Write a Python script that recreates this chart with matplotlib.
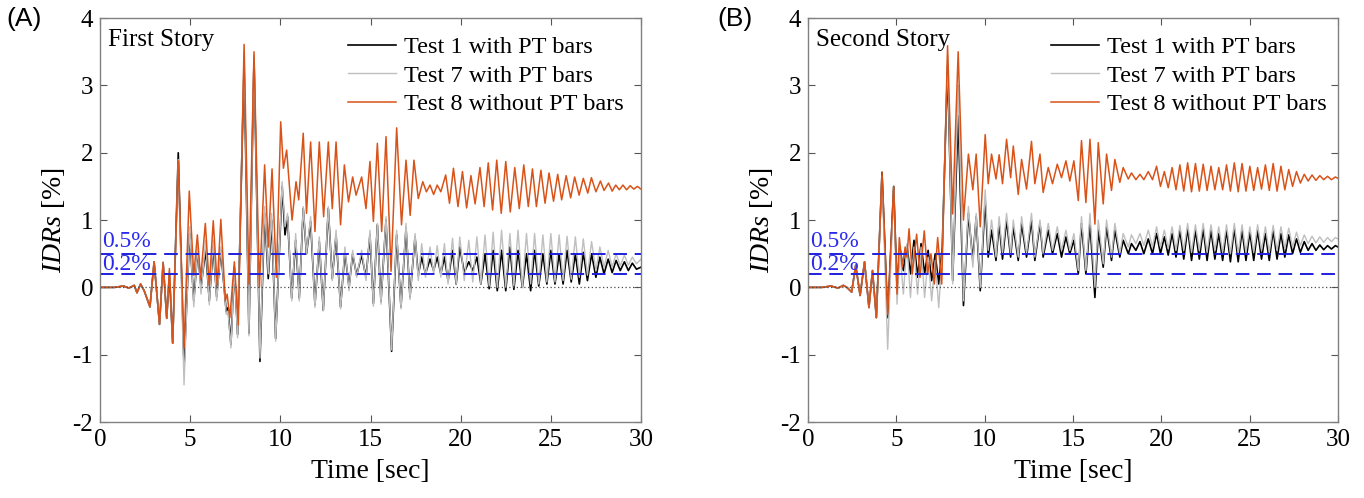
import matplotlib
matplotlib.use("Agg")
import matplotlib.pyplot as plt

plt.rcParams['font.family'] = ['Liberation Serif', 'DejaVu Serif']
plt.rcParams['mathtext.fontset'] = 'custom'
plt.rcParams['mathtext.it'] = 'Liberation Serif:italic'
plt.rcParams['mathtext.rm'] = 'Liberation Serif'
plt.rcParams['axes.unicode_minus'] = False

# ---------------- panel A : first story ----------------
# Test 1 / Test 7 share the same sample times
t17_a = [0, 0.8, 1.3, 1.6, 1.9, 2.05, 2.25, 2.45, 2.77, 3.0,
         3.3, 3.5, 3.7, 3.85, 4.03, 4.34, 4.66, 4.97, 5.2, 5.42,
         5.6, 5.86, 6.06, 6.28, 6.47, 6.7, 7.0, 7.1, 7.26, 7.45,
         7.63, 7.99, 8.26, 8.54, 8.87, 9.13, 9.33, 9.52, 9.74, 10.1,
         10.26, 10.4, 10.63, 10.85, 11.05, 11.27, 11.45, 11.68, 11.92, 12.16,
         12.38, 12.66, 12.88, 13.09, 13.34, 13.58, 13.81, 14.01, 14.23, 14.51,
         14.75, 14.97, 15.16, 15.38, 15.58, 15.86, 16.17, 16.45, 16.69, 16.97,
         17.19, 17.47, 17.65, 17.84, 18.05, 18.3, 18.5, 18.7, 18.9, 19.1,
         19.3, 19.55, 19.75, 19.95, 20.2, 20.45, 20.67, 20.9, 21.12, 21.35,
         21.58, 21.8, 22.03, 22.27, 22.5, 22.73, 22.95, 23.18, 23.42, 23.65,
         23.88, 24.1, 24.33, 24.56, 24.78, 25.0, 25.23, 25.46, 25.68, 25.9,
         26.13, 26.36, 26.58, 26.8, 27.03, 27.26, 27.5, 27.72, 27.95, 28.18,
         28.4, 28.62, 28.85, 29.08, 29.3, 29.52, 29.75, 30.0]
test1_a = [0, 0, 0.02, -0.01, 0.03, -0.08, 0.05, -0.05, -0.29, 0.38,
           -0.55, 0.37, -0.46, 0.2, -0.83, 2.0, -1.2, 0.8, -0.2, 0.55,
           0.0, 0.56, -0.2, 0.6, -0.14, 0.55, -0.36, -0.3, -0.85, 0.3,
           -0.7, 3.3, -0.68, 3.4, -1.1, 1.1, 0.13, 1.0, -0.76, 1.5,
           0.78, 1.05, -0.16, 0.7, -0.16, 1.17, 0.5, 0.98, -0.26, 0.68,
           -0.34, 1.17, 0.13, 0.78, -0.29, 0.53, 0.0, 0.5, 0.18, 0.48,
           0.15, 0.78, -0.24, 0.93, -0.21, 1.0, -0.95, 0.78, -0.29, 0.88,
           -0.14, 0.75, 0.18, 0.45, 0.2, 0.42, 0.25, 0.45, 0.2, 0.45,
           0.1, 0.55, 0.05, 0.6, 0.22, 0.38, 0.25, 0.45, 0.05, 0.5,
           -0.02, 0.55, -0.05, 0.55, -0.05, 0.6, -0.03, 0.55, 0.0, 0.5,
           -0.05, 0.55, 0.02, 0.5, 0.05, 0.55, 0.05, 0.5, 0.05, 0.55,
           0.08, 0.5, 0.05, 0.52, 0.1, 0.5, 0.15, 0.45, 0.2, 0.42,
           0.22, 0.4, 0.25, 0.38, 0.25, 0.36, 0.27, 0.3]
test7_a = [0, 0, 0.02, -0.01, 0.03, -0.08, 0.05, -0.05, -0.29, 0.38,
           -0.55, 0.37, -0.46, 0.25, -0.83, 1.9, -1.45, 0.9, -0.29, 0.6,
           -0.1, 0.7, -0.26, 0.7, -0.2, 0.6, -0.4, -0.35, -0.9, 0.3,
           -0.75, 3.5, -0.72, 3.45, -1.05, 1.2, 0.2, 1.1, -0.8, 1.57,
           0.9, 1.1, -0.2, 0.8, -0.2, 1.2, 0.5, 1.05, -0.3, 0.75,
           -0.35, 1.2, 0.1, 0.85, -0.32, 0.6, -0.05, 0.55, 0.15, 0.55,
           0.1, 0.85, -0.28, 0.95, -0.25, 1.05, -0.93, 0.85, -0.32, 0.95,
           -0.18, 0.8, 0.1, 0.65, 0.15, 0.6, 0.2, 0.62, 0.15, 0.65,
           0.05, 0.73, 0.05, 0.75, 0.1, 0.7, 0.08, 0.75, 0.05, 0.78,
           0.02, 0.82, 0.0, 0.85, 0.0, 0.8, 0.02, 0.85, 0.0, 0.8,
           0.05, 0.8, 0.05, 0.78, 0.08, 0.8, 0.08, 0.78, 0.1, 0.76,
           0.12, 0.75, 0.15, 0.72, 0.18, 0.68, 0.25, 0.6, 0.3, 0.55,
           0.3, 0.5, 0.32, 0.48, 0.33, 0.45, 0.35, 0.42]
t8_a = [0, 0.8, 1.3, 1.6, 1.9, 2.05, 2.25, 2.45, 2.77, 3.0,
        3.3, 3.5, 3.7, 3.85, 4.03, 4.34, 4.66, 4.95, 5.2, 5.4,
        5.58, 5.84, 6.06, 6.28, 6.5, 6.7, 6.95, 7.05, 7.2, 7.45,
        7.67, 7.99, 8.26, 8.54, 8.84, 9.13, 9.33, 9.54, 9.78, 10.02,
        10.17, 10.35, 10.65, 10.87, 11.02, 11.27, 11.45, 11.68, 11.92, 12.16,
        12.4, 12.66, 12.88, 13.09, 13.34, 13.55, 13.78, 14.01, 14.2, 14.51,
        14.75, 14.97, 15.16, 15.38, 15.62, 15.86, 16.14, 16.45, 16.72, 16.97,
        17.2, 17.41, 17.65, 17.9, 18.1, 18.3, 18.5, 18.7, 18.9, 19.17,
        19.38, 19.6, 19.85, 20.1, 20.33, 20.57, 20.8, 21.07, 21.3, 21.53,
        21.77, 22.0, 22.25, 22.5, 22.75, 23.0, 23.25, 23.5, 23.75, 23.98,
        24.2, 24.45, 24.68, 24.9, 25.15, 25.38, 25.6, 25.85, 26.1, 26.32,
        26.57, 26.8, 27.05, 27.25, 27.5, 27.75, 27.95, 28.2, 28.4, 28.6,
        28.8, 29.0, 29.2, 29.4, 29.6, 29.8, 30.0]
test8_a = [0, 0, 0.02, -0.01, 0.03, -0.08, 0.05, -0.05, -0.29, 0.38,
           -0.55, 0.37, -0.46, 0.28, -0.83, 1.88, -0.9, 1.43, 0.18, 0.78,
           0.13, 0.95, 0.03, 0.99, 0.03, 1.01, -0.2, -0.1, -0.45, 0.38,
           -0.56, 3.61, 0.05, 3.5, 0.0, 1.82, 0.6, 1.76, 0.15, 2.46,
           1.77, 2.04, 1.0, 1.57, 1.3, 2.29, 1.1, 2.16, 0.83, 2.16,
           1.05, 2.16, 1.17, 2.16, 0.93, 1.82, 1.27, 1.64, 1.37, 1.64,
           1.17, 1.87, 0.98, 2.14, 0.83, 2.24, 0.24, 2.37, 0.93, 1.89,
           1.07, 1.89, 1.32, 1.57, 1.42, 1.52, 1.38, 1.52, 1.42, 1.67,
           1.25, 1.77, 1.2, 1.72, 1.18, 1.66, 1.24, 1.78, 1.2, 1.85,
           1.15, 1.89, 1.1, 1.87, 1.12, 1.78, 1.17, 1.82, 1.2, 1.76,
           1.2, 1.74, 1.25, 1.7, 1.28, 1.68, 1.3, 1.66, 1.33, 1.64,
           1.37, 1.62, 1.4, 1.63, 1.42, 1.58, 1.44, 1.55, 1.43, 1.52,
           1.45, 1.52, 1.45, 1.51, 1.46, 1.5, 1.46]

# ---------------- panel B : second story ----------------
t17_b = [0, 0.8, 1.3, 1.7, 2.0, 2.2, 2.47, 2.7, 2.95, 3.2,
         3.45, 3.65, 3.87, 4.19, 4.51, 4.85,
         5.04, 5.2, 5.4, 5.6, 5.8, 6.0, 6.2, 6.4, 6.6, 6.8,
         7.0, 7.2, 7.4, 7.6, 7.9, 8.19, 8.5, 8.8, 9.08, 9.33,
         9.52, 9.75, 10.03,
         10.2, 10.39, 10.64, 10.82, 11.01, 11.24, 11.47, 11.62, 11.9, 12.09,
         12.37, 12.65, 12.84, 13.13, 13.31, 13.6, 13.84, 14.11, 14.35, 14.6,
         14.82, 15.05, 15.3, 15.48, 15.73, 15.96, 16.24, 16.43, 16.71, 16.9,
         17.18, 17.37, 17.65, 17.84, 18.13, 18.31, 18.56, 18.79, 19.01, 19.26,
         19.5, 19.73,
         19.95, 20.17, 20.39, 20.61, 20.83, 21.05, 21.27, 21.49, 21.71, 21.93,
         22.15, 22.37, 22.59, 22.81, 23.03, 23.25, 23.47, 23.69, 23.91, 24.13,
         24.35, 24.57, 24.79, 25.01, 25.23, 25.45, 25.67, 25.89, 26.11, 26.33,
         26.55, 26.77, 26.99, 27.21, 27.43, 27.65, 27.87, 28.09, 28.31, 28.53,
         28.75, 28.97, 29.19, 29.41, 29.63, 29.85, 30.0]
test1_b = [0, 0.0, 0.02, -0.01, 0.03, 0.0, -0.07, 0.33, -0.12, 0.38,
           -0.3, 0.25, -0.45, 1.71, -0.45, 1.5,
           0.0, 0.6, 0.25, 0.62, 0.2, 0.7, 0.15, 0.65, 0.2, 0.55,
           0.1, 0.5, 0.05, 0.6, 3.3, 0.1, 2.55, -0.27, 1.1, 0.4,
           1.05, -0.05, 1.3,
           0.45, 0.85, 0.4, 0.95, 0.42, 1.0, 0.45, 0.9, 0.4, 0.95,
           0.45, 1.0, 0.4, 0.95, 0.45, 0.85, 0.5, 0.8, 0.45, 0.75,
           0.5, 0.7, 0.2, 0.95, 0.2, 0.95, -0.15, 0.85, 0.3, 0.9,
           0.4, 0.85, 0.45, 0.7, 0.5, 0.65, 0.55, 0.68, 0.5, 0.72,
           0.5, 0.8,
           0.5, 0.75, 0.48, 0.8, 0.45, 0.85, 0.42, 0.88, 0.4, 0.85,
           0.42, 0.87, 0.4, 0.85, 0.42, 0.8, 0.4, 0.85, 0.38, 0.88,
           0.38, 0.85, 0.4, 0.82, 0.4, 0.85, 0.42, 0.8, 0.4, 0.85,
           0.42, 0.8, 0.45, 0.78, 0.5, 0.72, 0.52, 0.68, 0.55, 0.65,
           0.55, 0.63, 0.56, 0.62, 0.57, 0.62, 0.6]
test7_b = [0, 0.0, 0.02, -0.01, 0.03, 0.0, -0.07, 0.33, -0.12, 0.38,
           -0.3, 0.25, -0.45, 1.65, -0.92, 1.45,
           -0.25, 0.55, -0.1, 0.65, -0.15, 0.6, -0.1, 0.6, -0.15, 0.45,
           -0.2, 0.4, -0.3, 0.5, 3.45, 0.05, 3.0, -0.2, 1.2, 0.3,
           1.1, 0.0, 1.45,
           0.55, 1.0, 0.45, 1.05, 0.5, 1.1, 0.5, 1.0, 0.45, 1.05,
           0.5, 1.1, 0.45, 1.0, 0.5, 0.95, 0.55, 0.9, 0.55, 0.85,
           0.55, 0.8, 0.25, 1.05, 0.25, 1.1, 0.0, 1.0, 0.35, 1.0,
           0.45, 0.95, 0.5, 0.8, 0.6, 0.78, 0.65, 0.8, 0.62, 0.85,
           0.6, 0.9,
           0.6, 0.85, 0.58, 0.9, 0.55, 0.92, 0.55, 0.95, 0.52, 0.93,
           0.55, 0.95, 0.52, 0.93, 0.55, 0.9, 0.52, 0.93, 0.5, 0.95,
           0.5, 0.93, 0.52, 0.9, 0.52, 0.93, 0.55, 0.9, 0.52, 0.92,
           0.55, 0.9, 0.58, 0.88, 0.6, 0.82, 0.62, 0.78, 0.65, 0.76,
           0.66, 0.75, 0.67, 0.74, 0.68, 0.74, 0.72]
t8_b = [0, 0.8, 1.3, 1.7, 2.0, 2.2, 2.47, 2.7, 2.95, 3.2,
        3.45, 3.65, 3.87, 4.19, 4.51, 4.85, 5.04, 5.17, 5.34, 5.5,
        5.6, 5.72, 5.9, 6.15, 6.34, 6.58, 6.77, 6.96, 7.15, 7.34,
        7.57, 7.9, 8.19, 8.5, 8.8, 9.08, 9.33, 9.52, 9.75, 10.03,
        10.2, 10.39, 10.64, 10.82, 11.01, 11.24, 11.47, 11.62, 11.9, 12.09,
        12.37, 12.65, 12.84, 13.13, 13.31, 13.6, 13.84, 14.11, 14.35, 14.6,
        14.82, 15.05, 15.3, 15.48, 15.73, 15.96, 16.24, 16.43, 16.71, 16.9,
        17.18, 17.37, 17.65, 17.84, 18.13, 18.31, 18.56, 18.79, 19.01, 19.26,
        19.5, 19.73,
        19.95, 20.17, 20.39, 20.61, 20.83, 21.05, 21.27, 21.49, 21.71, 21.93,
        22.15, 22.37, 22.59, 22.81, 23.03, 23.25, 23.47, 23.69, 23.91, 24.13,
        24.35, 24.57, 24.79, 25.01, 25.23, 25.45, 25.67, 25.89, 26.11, 26.33,
        26.55, 26.77, 26.99, 27.21, 27.43, 27.65, 27.87, 28.09, 28.31, 28.53,
        28.75, 28.97, 29.19, 29.41, 29.63, 29.85, 30.0]
test8_b = [0, 0.0, 0.02, -0.01, 0.03, 0.0, -0.07, 0.33, -0.12, 0.38,
           -0.3, 0.25, -0.45, 1.71, -0.4, 1.5, -0.1, 0.74, 0.3, 0.6,
           0.45, 0.87, 0.2, 0.79, 0.15, 0.84, 0.2, 0.5, 0.05, 0.74,
           0.05, 3.59, 1.09, 3.5, 1.0, 1.98, 1.45, 1.98, 0.9, 2.27,
           1.54, 1.98, 1.61, 1.97, 1.54, 2.2, 1.63, 2.1, 1.38, 1.9,
           1.46, 2.17, 1.54, 1.98, 1.41, 1.78, 1.54, 1.83, 1.63, 1.88,
           1.58, 1.88, 1.29, 2.18, 1.26, 2.2, 0.94, 2.15, 1.24, 1.98,
           1.44, 1.9, 1.56, 1.78, 1.61, 1.7, 1.6, 1.68, 1.6, 1.72,
           1.6, 1.8,
           1.5, 1.72, 1.48, 1.78, 1.45, 1.82, 1.43, 1.85, 1.42, 1.84,
           1.43, 1.83, 1.44, 1.8, 1.45, 1.78, 1.45, 1.82, 1.43, 1.85,
           1.42, 1.84, 1.43, 1.8, 1.44, 1.78, 1.46, 1.82, 1.44, 1.84,
           1.43, 1.8, 1.45, 1.75, 1.5, 1.72, 1.55, 1.68, 1.58, 1.67,
           1.59, 1.66, 1.6, 1.65, 1.6, 1.64, 1.62]

panels = [
    ('(A)', 'First Story', t17_a, test1_a, test7_a, t8_a, test8_a),
    ('(B)', 'Second Story', t17_b, test1_b, test7_b, t8_b, test8_b),
]
ax_lefts = [100 / 1364, 808 / 1364]
ax_widths = [541 / 1364, 530 / 1364]
tag_x = [0.005, 0.526]

fig = plt.figure(figsize=(13.64, 4.98), dpi=100)

for i, (tag, story, t17, y1, y7, t8, y8) in enumerate(panels):
    ax = fig.add_axes([ax_lefts[i], 0.1526, ax_widths[i], 0.811])
    ax.plot(t17, y1, color='black', lw=1.2, label='Test 1 with PT bars')
    ax.plot(t17, y7, color='#bfbfbf', lw=1.0, label='Test 7 with PT bars')
    ax.plot(t8, y8, color='#d95319', lw=1.1, label='Test 8 without PT bars')
    ax.axhline(0.5, color='#1f1fdd', lw=1.4, ls=(0, (7, 4)))
    ax.axhline(0.2, color='#1f1fdd', lw=1.4, ls=(0, (7, 4)))
    ax.axhline(0, color='#4a4a4a', lw=0.9, ls=(0, (1, 2)))
    ax.text(0.1, 0.53, '0.5%', color='#2a2aee', fontsize=17, va='bottom')
    ax.text(0.1, 0.19, '0.2%', color='#2a2aee', fontsize=17, va='bottom')
    ax.text(0.015, 0.972, story, transform=ax.transAxes, fontsize=18,
            va='top', ha='left')
    ax.set_xlim(0, 30)
    ax.set_ylim(-2, 4)
    ax.set_xticks([0, 5, 10, 15, 20, 25, 30])
    ax.set_yticks([-2, -1, 0, 1, 2, 3, 4])
    ax.tick_params(direction='in', top=True, right=True, labelsize=18,
                   length=5, color='#555555', pad=5)
    for s in ax.spines.values():
        s.set_color('#808080')
        s.set_linewidth(1.0)
    ax.set_xlabel('Time [sec]', fontsize=20, labelpad=6)
    ax.set_ylabel(r'$\mathit{IDRs}$ [%]', fontsize=20, labelpad=4)
    ax.legend(loc='upper left', bbox_to_anchor=(0.458, 0.955), frameon=False,
              fontsize=17.5, handlelength=2.0, handletextpad=0.3,
              labelspacing=0.27, borderpad=0, borderaxespad=0)
    fig.text(tag_x[i], 0.985, tag, family='Liberation Sans', fontsize=19,
             va='top', ha='left')

fig.savefig('out.png', dpi=100)
